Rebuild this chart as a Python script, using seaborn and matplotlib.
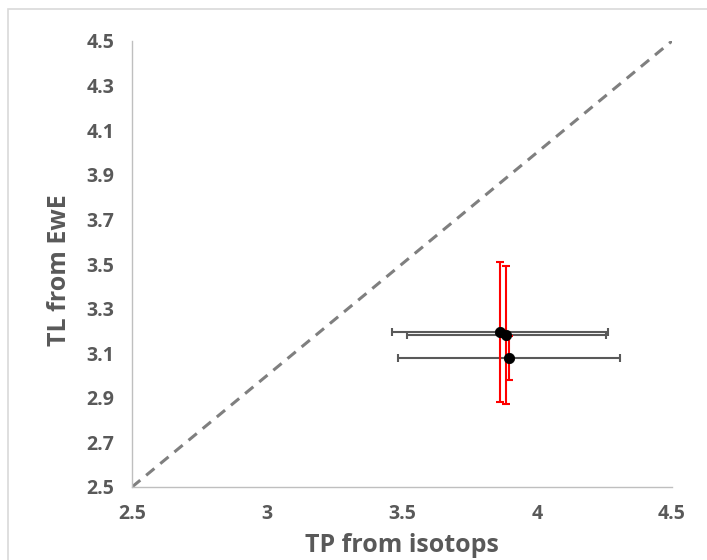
import matplotlib
matplotlib.use("Agg")
import matplotlib.pyplot as plt
import seaborn as sns
import pandas as pd
from matplotlib.patches import Rectangle

# Data
tp_isotopes = [3.863, 3.887, 3.897]
tl_ewe = [3.195, 3.182, 3.078]
tp_err = [0.40, 0.37, 0.41]
tl_err = [0.314, 0.308, 0.10]
diag = [2.5, 4.5]
x_ticks = [2.5, 3, 3.5, 4, 4.5]
x_tick_labels = ["2.5", "3", "3.5", "4", "4.5"]
y_ticks = [2.5, 2.7, 2.9, 3.1, 3.3, 3.5, 3.7, 3.9, 4.1, 4.3, 4.5]
y_tick_labels = ["2.5", "2.7", "2.9", "3.1", "3.3", "3.5", "3.7", "3.9", "4.1", "4.3", "4.5"]

sns.set_style("white")
plt.rcParams['font.family'] = ['Open Sans', 'DejaVu Sans']

W, H = 707, 560
fig = plt.figure(figsize=(W / 100, H / 100), dpi=100)
ax = fig.add_axes([132 / W, 73 / H, 540 / W, 446 / H])

df = pd.DataFrame({"tp": tp_isotopes, "tl": tl_ewe})
dline = pd.DataFrame({"x": diag, "y": diag})

sns.lineplot(data=dline, x="x", y="y", ax=ax, color="#7f7f7f", lw=2.2,
             linestyle=(0, (3.5, 2.5)), zorder=1)

ax.errorbar(tp_isotopes, tl_ewe, xerr=tp_err, fmt="none", ecolor="#595959",
            elinewidth=1.5, capsize=3, capthick=1.5, zorder=2)
ax.errorbar(tp_isotopes, tl_ewe, yerr=tl_err, fmt="none", ecolor="#ff0000",
            elinewidth=1.5, capsize=3, capthick=1.5, zorder=3)
sns.scatterplot(data=df, x="tp", y="tl", ax=ax, color="black", s=55,
                edgecolor="black", zorder=4)

ax.set_xlim(2.5, 4.5)
ax.set_ylim(2.5, 4.5)
ax.set_xticks(x_ticks)
ax.set_xticklabels(x_tick_labels)
ax.set_yticks(y_ticks)
ax.set_yticklabels(y_tick_labels)

for s in ["top", "right"]:
    ax.spines[s].set_visible(False)
for s in ["left", "bottom"]:
    ax.spines[s].set_color("#bfbfbf")
    ax.spines[s].set_linewidth(1.0)

ax.tick_params(axis="both", direction="out", length=4.5, width=1, color="#bfbfbf",
               labelcolor="#595959", labelsize=14)
ax.tick_params(axis="x", pad=8)
ax.tick_params(axis="y", pad=8)
for lab in ax.get_xticklabels() + ax.get_yticklabels():
    lab.set_fontweight("bold")

ax.set_xlabel("")
ax.set_ylabel("")
fig.text(402 / W, (H - 552) / H, "TP from isotops", fontsize=18, fontweight="bold",
         color="#595959", ha="center", va="baseline")
fig.text(66 / W, (H - 270) / H, "TL from EwE", fontsize=18, fontweight="bold",
         color="#595959", ha="center", va="baseline", rotation=90, rotation_mode="anchor")

fig.patches.append(Rectangle((8 / W, -0.1), 1.2, (H - 9) / H + 0.1, transform=fig.transFigure,
                             fill=False, edgecolor="#d9d9d9", lw=1.2))

fig.savefig("out.png", dpi=100)
